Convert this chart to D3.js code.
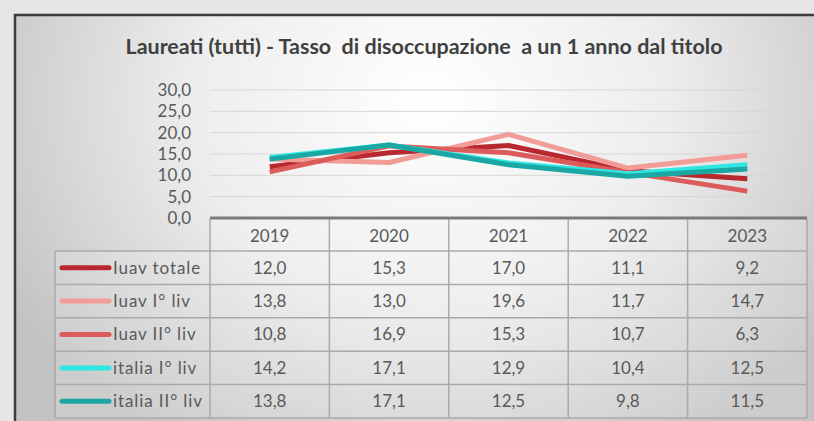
<!DOCTYPE html>
<html>
<head>
<meta charset="utf-8">
<script src="https://cdn.jsdelivr.net/npm/d3@7"></script>
<style>
  body { margin: 0; background: #e6e6e6; }
  svg { display: block; font-family: Lato, "Open Sans", sans-serif; }
</style>
</head>
<body>
<div id="chart"></div>
<script>
// data
var years = ["2019", "2020", "2021", "2022", "2023"];
var seriesNames = ["Iuav totale", "Iuav I° liv", "Iuav II° liv", "italia I° liv", "italia II° liv"];
var iuavTotale = [12.0, 15.3, 17.0, 11.1, 9.2];
var iuavPrimo = [13.8, 13.0, 19.6, 11.7, 14.7];
var iuavSecondo = [10.8, 16.9, 15.3, 10.7, 6.3];
var italiaPrimo = [14.2, 17.1, 12.9, 10.4, 12.5];
var italiaSecondo = [13.8, 17.1, 12.5, 9.8, 11.5];
var yTicks = [0, 5, 10, 15, 20, 25, 30];
var title = "Laureati (tutti) - Tasso  di disoccupazione  a un 1 anno dal titolo";

var seriesValues = [iuavTotale, iuavPrimo, iuavSecondo, italiaPrimo, italiaSecondo];
var colors = ["#b8282e", "#f29c98", "#dc5b5b", "#2ee6e2", "#1ba8a4"];

var width = 814, height = 421;
var plot = {left: 210, right: 807, top: 90, bottom: 218};
var table = {legendLeft: 55, headerTop: 219, headerBottom: 251, rowH: 33.4};

var fmt = function(v){ return d3.format(".1f")(v).replace(".", ","); };

var svg = d3.select("#chart").append("svg")
    .attr("width", width)
    .attr("height", height);

// background gradient of the chart area
var defs = svg.append("defs");
var grad = defs.append("radialGradient")
    .attr("id", "bg")
    .attr("gradientUnits", "userSpaceOnUse")
    .attr("cx", 430).attr("cy", 100).attr("r", 480)
    .attr("gradientTransform", "translate(430,100) scale(1,0.85) translate(-430,-100)");
grad.append("stop").attr("offset", "0%").attr("stop-color", "#ffffff");
grad.append("stop").attr("offset", "50%").attr("stop-color", "#ededed");
grad.append("stop").attr("offset", "100%").attr("stop-color", "#c3c3c3");

svg.append("rect")
    .attr("x", 15).attr("y", 15)
    .attr("width", width - 15).attr("height", height - 15)
    .attr("fill", "url(#bg)");

// frame (top and left)
svg.append("path")
    .attr("d", "M15," + height + "V15H" + width)
    .attr("fill", "none")
    .attr("stroke", "#3c3c3c")
    .attr("stroke-width", 2.5);

// title
svg.append("text")
    .attr("x", 424).attr("y", 54)
    .attr("text-anchor", "middle")
    .attr("font-size", 21)
    .attr("font-weight", "bold")
    .attr("fill", "#404040")
    .attr("textLength", 597)
    .attr("lengthAdjust", "spacingAndGlyphs")
    .style("white-space", "pre")
    .text(title);

// scales
var x = d3.scaleBand()
    .domain(years)
    .range([plot.left, plot.right]);

var y = d3.scaleLinear()
    .domain([0, 30])
    .range([plot.bottom, plot.top]);

// gridlines
svg.append("g").selectAll("line")
    .data(yTicks.filter(function(d){ return d > 0; }))
    .enter()
    .append("line")
    .attr("x1", plot.left).attr("x2", plot.right)
    .attr("y1", function(d){ return y(d); })
    .attr("y2", function(d){ return y(d); })
    .attr("stroke", "#d6d6d6")
    .attr("stroke-width", 1);

// y axis labels
var yAxis = d3.axisLeft(y)
    .tickValues(yTicks)
    .tickFormat(fmt)
    .tickSize(0)
    .tickPadding(0);

var yg = svg.append("g")
    .attr("transform", "translate(191,0)")
    .call(yAxis);
yg.select(".domain").remove();
yg.selectAll("text")
    .attr("font-family", "Lato, sans-serif")
    .attr("font-size", 17)
    .attr("fill", "#595959");

// lines
var line = d3.line()
    .x(function(d, i){ return x(years[i]) + x.bandwidth() / 2; })
    .y(function(d){ return y(d); });

svg.append("g").selectAll("path")
    .data(seriesValues)
    .enter()
    .append("path")
    .attr("d", line)
    .attr("fill", "none")
    .attr("stroke", function(d, i){ return colors[i]; })
    .attr("stroke-width", 5)
    .attr("stroke-linejoin", "round")
    .attr("stroke-linecap", "butt");

// data table
var tableBottom = table.headerBottom + table.rowH * seriesNames.length;
var tg = svg.append("g");

// cell backgrounds
tg.append("rect")
    .attr("x", plot.left).attr("y", table.headerTop)
    .attr("width", plot.right - plot.left)
    .attr("height", table.headerBottom - table.headerTop)
    .attr("fill", "#ffffff").attr("fill-opacity", 0.15);
tg.append("rect")
    .attr("x", table.legendLeft).attr("y", table.headerBottom)
    .attr("width", plot.right - table.legendLeft)
    .attr("height", tableBottom - table.headerBottom)
    .attr("fill", "#ffffff").attr("fill-opacity", 0.15);

// horizontal borders
var rowLines = d3.range(seriesNames.length + 1).map(function(i){
    return table.headerBottom + i * table.rowH;
});
tg.selectAll("line.h")
    .data(rowLines)
    .enter()
    .append("line")
    .attr("class", "h")
    .attr("x1", table.legendLeft).attr("x2", plot.right)
    .attr("y1", function(d){ return d; })
    .attr("y2", function(d){ return d; })
    .attr("stroke", "#aaaaaa")
    .attr("stroke-width", 1.5);

// vertical borders
var colLines = years.map(function(yr){ return x(yr); }).concat([plot.right]);
tg.selectAll("line.v")
    .data(colLines)
    .enter()
    .append("line")
    .attr("class", "v")
    .attr("x1", function(d){ return d; })
    .attr("x2", function(d){ return d; })
    .attr("y1", table.headerTop).attr("y2", tableBottom)
    .attr("stroke", "#aaaaaa")
    .attr("stroke-width", 1.5);
tg.append("line")
    .attr("x1", table.legendLeft).attr("x2", table.legendLeft)
    .attr("y1", table.headerBottom).attr("y2", tableBottom)
    .attr("stroke", "#aaaaaa")
    .attr("stroke-width", 1.5);

// axis line on top of the header
tg.append("line")
    .attr("x1", plot.left).attr("x2", plot.right)
    .attr("y1", plot.bottom).attr("y2", plot.bottom)
    .attr("stroke", "#7a7a7a")
    .attr("stroke-width", 3);

// header labels
tg.selectAll("text.year")
    .data(years)
    .enter()
    .append("text")
    .attr("class", "year")
    .attr("x", function(d){ return x(d) + x.bandwidth() / 2; })
    .attr("y", (table.headerTop + table.headerBottom) / 2 + 1)
    .attr("dy", "0.35em")
    .attr("text-anchor", "middle")
    .attr("font-size", 17)
    .attr("fill", "#595959")
    .text(function(d){ return d; });

// rows
var rows = tg.selectAll("g.row")
    .data(seriesValues)
    .enter()
    .append("g")
    .attr("class", "row")
    .attr("transform", function(d, i){
        return "translate(0," + (table.headerBottom + i * table.rowH + table.rowH / 2) + ")";
    });

rows.append("line")
    .attr("x1", 62).attr("x2", 109)
    .attr("y1", 0).attr("y2", 0)
    .attr("stroke", function(d, i){ return colors[i]; })
    .attr("stroke-width", 5)
    .attr("stroke-linecap", "round");

rows.append("text")
    .attr("x", 113)
    .attr("dy", "0.35em")
    .attr("font-size", 17)
    .attr("letter-spacing", 0.9)
    .attr("fill", "#595959")
    .text(function(d, i){ return seriesNames[i]; });

rows.selectAll("text.val")
    .data(function(d){ return d; })
    .enter()
    .append("text")
    .attr("class", "val")
    .attr("x", function(d, i){ return x(years[i]) + x.bandwidth() / 2; })
    .attr("dy", "0.35em")
    .attr("text-anchor", "middle")
    .attr("font-size", 17)
    .attr("fill", "#595959")
    .text(fmt);
</script>
</body>
</html>
